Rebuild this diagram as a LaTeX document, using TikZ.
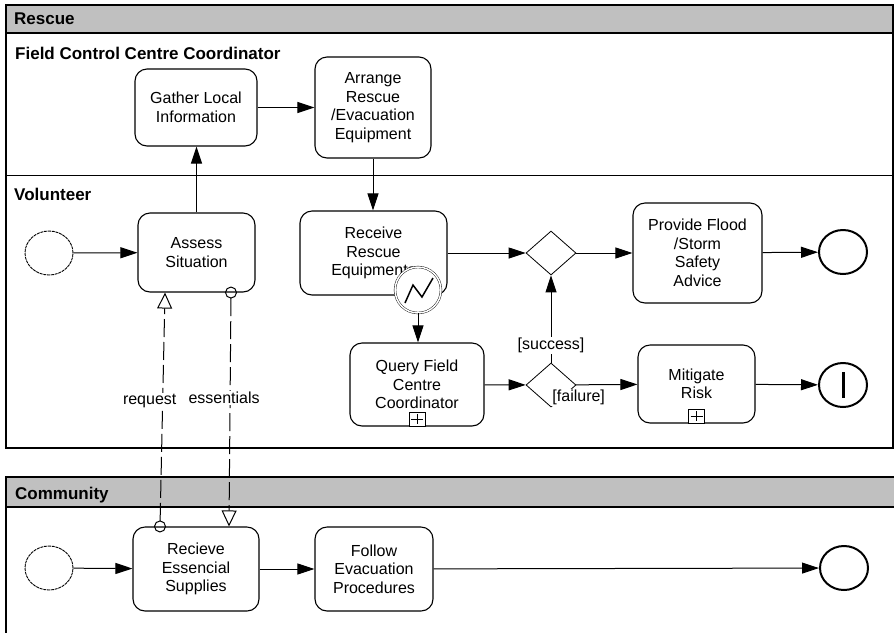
\documentclass[tikz,border=0pt]{standalone}
\usepackage{fontspec}
\setmainfont{Liberation Sans}
\usetikzlibrary{arrows.meta,shapes.geometric}
\definecolor{lanegray}{RGB}{192,192,192}

\begin{document}
\begin{tikzpicture}[x=1pt,y=-1pt]
\tikzstyle{task}=[draw,rounded corners=12pt,align=center,inner sep=0pt,line width=1.1pt,font=\fontsize{16}{18.5}\selectfont]
\tikzstyle{event}=[draw,ellipse,minimum width=48pt,minimum height=44pt,inner sep=0pt]
\tikzstyle{startevent}=[event,line width=0.9pt,dash pattern=on 3pt off 0.8pt]
\tikzstyle{endevent}=[event,line width=2pt]
\tikzstyle{gateway}=[draw,diamond,minimum width=50pt,minimum height=44pt,inner sep=0pt,line width=0.8pt]
\tikzstyle{subproc}=[draw,fill=white,minimum width=16pt,minimum height=14pt,inner sep=0pt,anchor=south,line width=0.8pt,
  path picture={\draw ([yshift=-2pt]path picture bounding box.north) -- ([yshift=2pt]path picture bounding box.south)
    ([xshift=2pt]path picture bounding box.west) -- ([xshift=-2pt]path picture bounding box.east);}]
\tikzstyle{seqflow}=[line width=1pt,-{Triangle[length=17pt,width=11pt]}]
\tikzstyle{msgflow}=[line width=1pt,dash pattern=on 18pt off 5pt,shorten <=-6pt,
  {Circle[open,length=12pt,width=12pt]}-{Triangle[open,length=16pt,width=15pt]}]
\tikzstyle{lbl}=[font=\fontsize{16}{18.5}\selectfont,fill=white,inner sep=1pt]
\tikzstyle{title}=[anchor=base west,font=\fontsize{17}{20}\bfseries\selectfont,inner sep=0pt]
\useasboundingbox (0,0) rectangle (894,633);

% pools and lanes
\fill[lanegray] (6,5) rectangle (893,33);
\draw[line width=1.2pt] (6,5) rectangle (893,448);
\draw[line width=1.2pt] (6,33) -- (893,33);
\draw[line width=1pt] (6,175) -- (893,175);
\node[title] (rescue) at (14,24) {Rescue};
\node[title] (fccc) at (15,59) {Field Control Centre Coordinator};
\node[title] (volunteer) at (14,200) {Volunteer};
\fill[lanegray] (6,477) rectangle (894,507);
\draw[line width=1.2pt] (894,477) -- (6,477) -- (6,633);
\draw[line width=1.2pt] (6,507) -- (894,507);
\node[title] (community) at (15,499) {Community};

% field control centre coordinator
\node[task,minimum width=122pt,minimum height=77pt] (gather) at (196,107.5) {Gather Local\\Information};
\node[task,minimum width=116pt,minimum height=101pt] (arrange) at (373,107.5) {Arrange\\Rescue\\/Evacuation\\Equipment};

% volunteer
\node[startevent] (vstart) at (49,253) {};
\node[task,minimum width=117pt,minimum height=79pt] (assess) at (196.5,252.5) {Assess\\Situation};
\node[task,minimum width=147pt,minimum height=84pt] (receive) at (373.5,253) {Receive\\Rescue\\Equipments};
\node[draw,circle,double,double distance=1.5pt,fill=white,minimum size=46pt,inner sep=0pt] (error) at (418,290) {};
\draw[line width=1.5pt] (error.center) ++(-13,13) -- ++(8,-18) -- ++(9,12) -- ++(11,-19);
\node[task,minimum width=134pt,minimum height=83pt] (query) at (417,384.5) {Query Field\\Centre\\Coordinator};
\node[subproc] (qplus) at (query.south) {};
\node[gateway] (gw1) at (551,253) {};
\node[gateway] (gw2) at (551,385) {};
\node[task,minimum width=129pt,minimum height=100pt] (provide) at (697.5,253) {Provide Flood\\/Storm\\Safety\\Advice};
\node[task,minimum width=117pt,minimum height=78pt] (mitigate) at (696.5,384) {Mitigate\\Risk};
\node[subproc] (mplus) at (mitigate.south) {};
\node[endevent] (vend) at (843,252) {};
\node[endevent] (verror) at (843,385) {};
\draw[line width=3pt] (verror.center) ++(0,-13) -- ++(0,26);

% community
\node[startevent] (cstart) at (49,568) {};
\node[task,minimum width=126pt,minimum height=84pt] (recieve) at (196,569) {Recieve\\Essencial\\Supplies};
\node[task,minimum width=118pt,minimum height=84pt] (follow) at (374,569) {Follow\\Evacuation\\Procedures};
\node[endevent] (cend) at (844,568) {};

% sequence flows
\draw[seqflow] (vstart) -- (assess);
\draw[seqflow] (assess.north) -- (assess.north |- gather.south);
\draw[seqflow] (gather) -- (arrange);
\draw[seqflow] (arrange.south) -- (arrange.south |- receive.north);
\draw[seqflow] (receive) -- (gw1);
\draw[seqflow] (gw1) -- (provide);
\draw[seqflow] (provide) -- (vend);
\draw[seqflow] (error.south) -- (error.south |- query.north);
\draw[seqflow] (query) -- (gw2);
\draw[seqflow] (gw2) -- node[lbl,pos=0.2] {[success]} (gw1);
\draw[seqflow] (gw2) -- node[lbl,pos=0,xshift=2.5pt,yshift=-13pt] {[failure]} (mitigate);
\draw[seqflow] (mitigate) -- (verror);
\draw[seqflow] (cstart) -- (recieve);
\draw[seqflow] (recieve) -- (follow);
\draw[seqflow] (follow) -- (cend);

% message flows
\draw[msgflow] ([xshift=-36pt]recieve.north) -- node[lbl,pos=0.537,xshift=-13pt] {request} ([xshift=-31.5pt]assess.south);
\draw[msgflow] ([xshift=34.5pt]assess.south) -- node[lbl,pos=0.45,xshift=-6pt] {essentials} ([xshift=33pt]recieve.north);
\end{tikzpicture}
\end{document}
